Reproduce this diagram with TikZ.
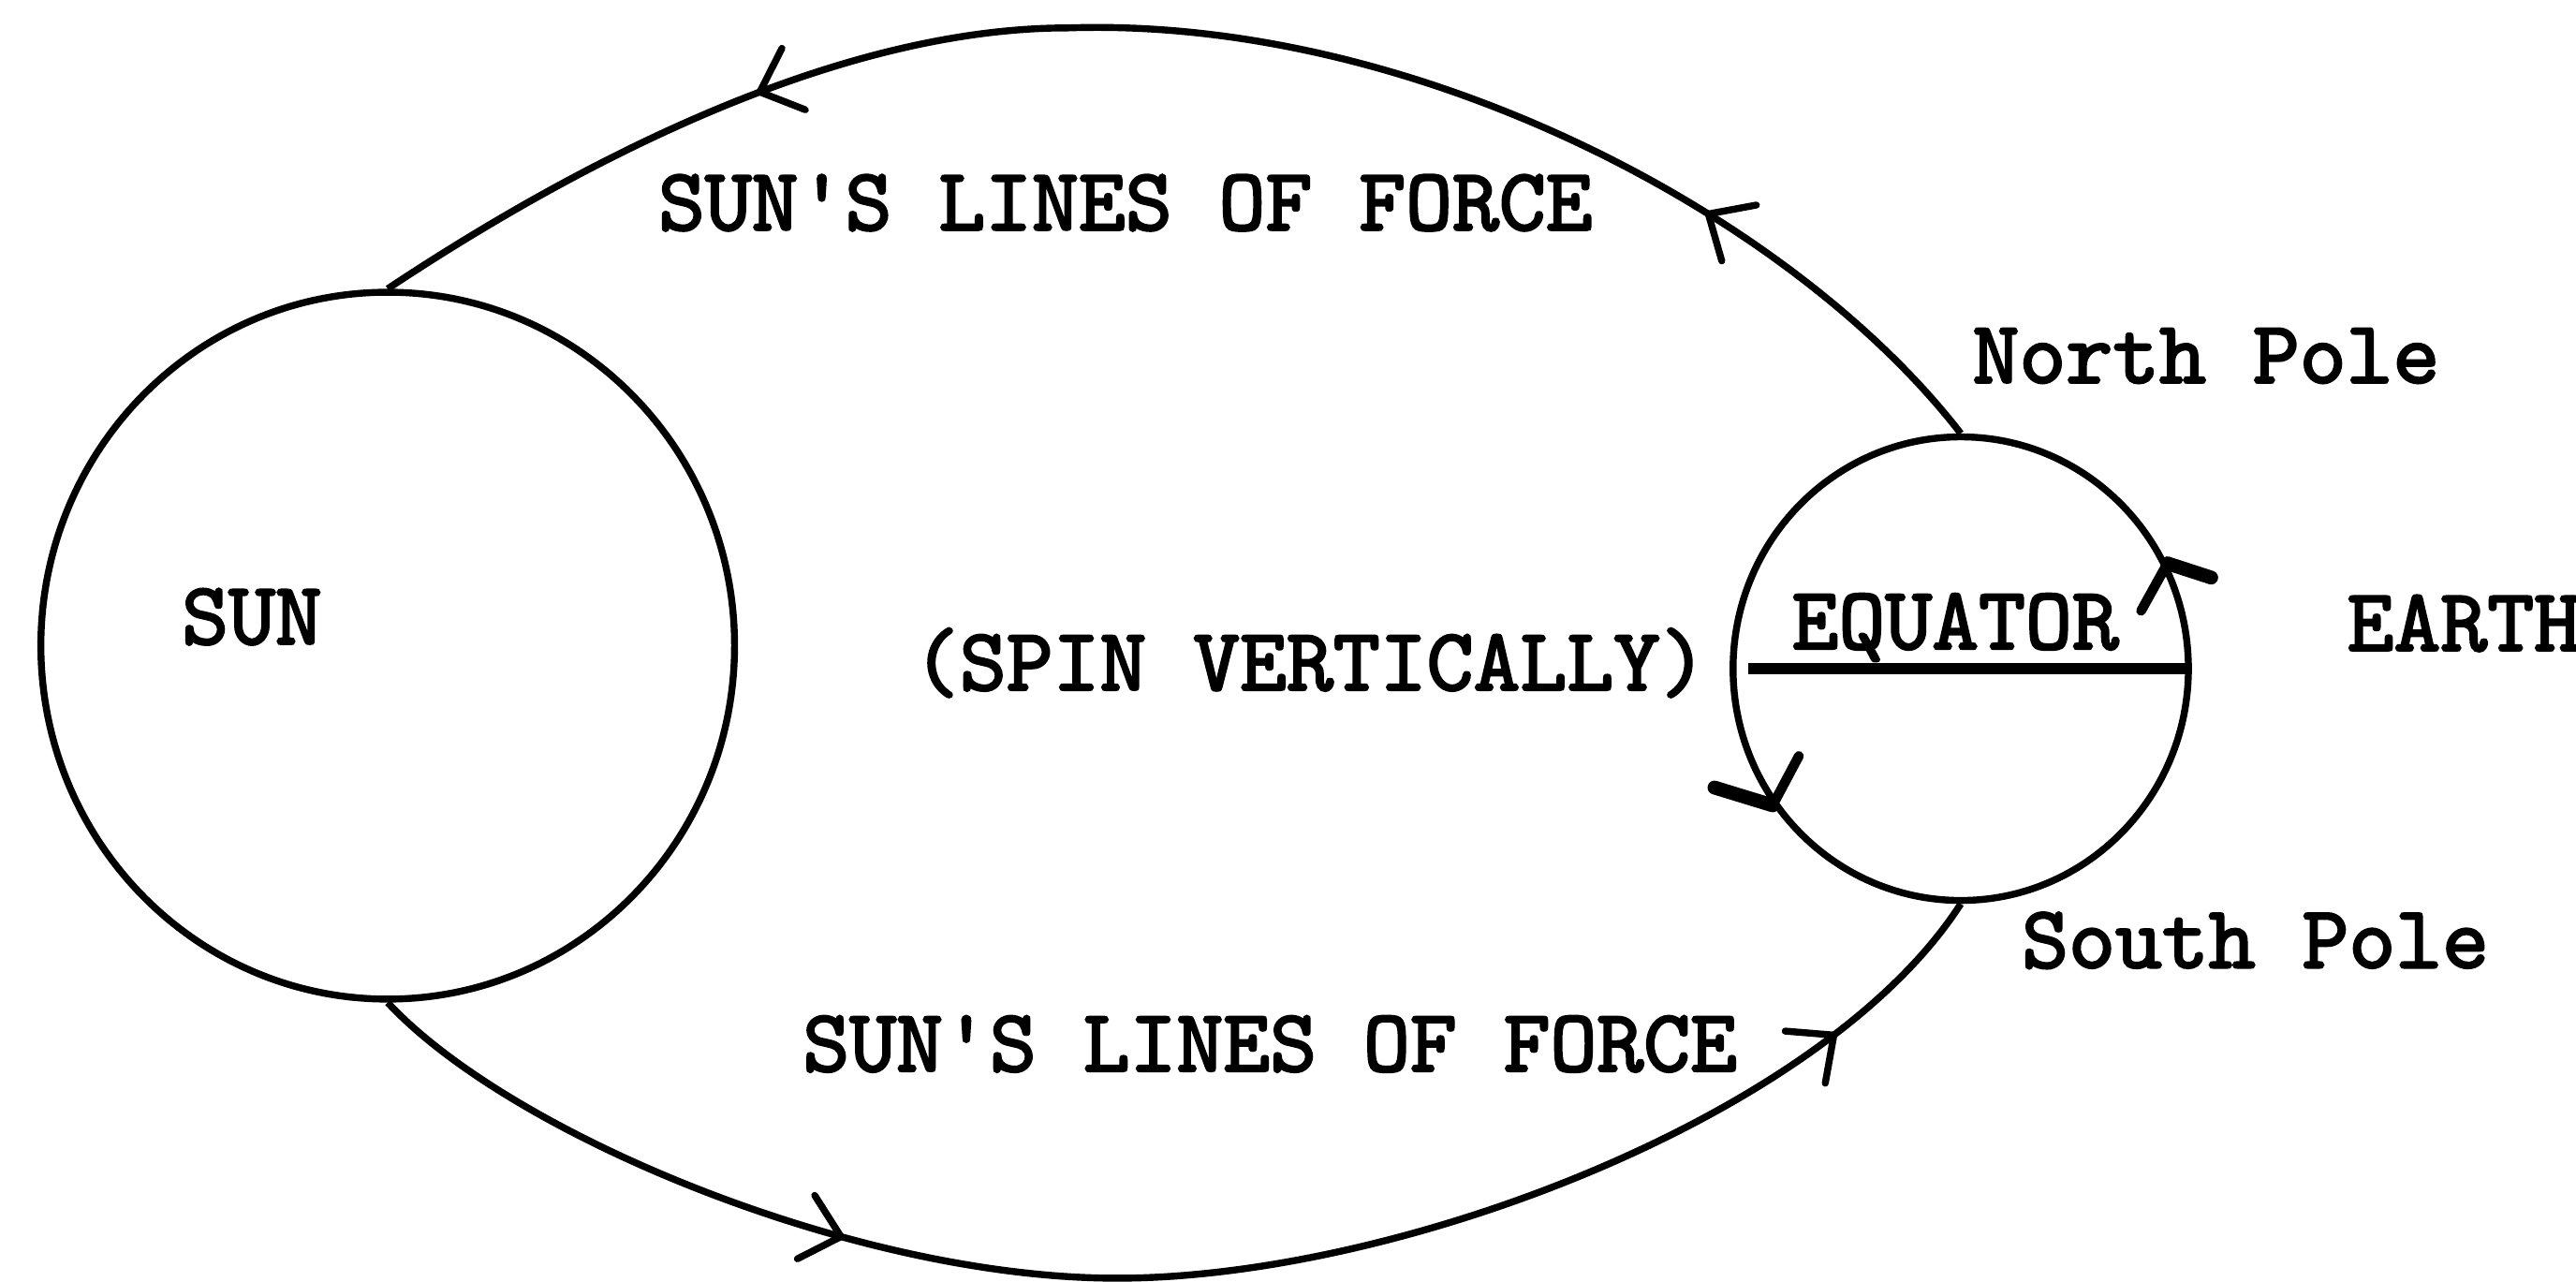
\documentclass[tikz,border=0pt]{standalone}
\usepackage{fontspec}
\newfontfamily\twfont{lmmono10-regular}[Extension=.otf, FakeBold=2.5]
\usetikzlibrary{arrows.meta,decorations.markings,shapes.geometric}
\begin{document}
\begin{tikzpicture}[x=0.01cm,y=-0.01cm,
  body/.style={draw, ellipse, line width=1.2pt, inner sep=0pt},
  lbl/.style={font=\twfont\fontsize{15.4}{18}\selectfont, anchor=base west, inner sep=0pt},
  fbarb/.tip={Straight Barb[length=0.22cm,width=0.40cm,round]},
  force/.style={line width=1.2pt, postaction={decorate}},
  spin/.style={line width=2.4pt, line cap=round, line join=round},
  spinthin/.style={line width=1.7pt, line cap=round, line join=round},
  equator/.style={line width=1.8pt}
]
\useasboundingbox (0,0) rectangle (1568,780);
\clip (0,0) rectangle (1568,780);

% bodies
\node[body, minimum width=4.22cm, minimum height=4.30cm] (sun) at (236,393) {};
\node[body, minimum width=2.77cm, minimum height=2.82cm] (earth) at (1193.5,407) {};

% equator
\draw[equator] ([xshift=0.115cm]earth.west) -- (earth.east);

% lines of force
\draw[force, decoration={markings,
    mark=at position 0.194 with {\arrow{fbarb}},
    mark=at position 0.761 with {\arrow{fbarb}}}]
  (earth.north) .. controls (1090,130) and (860,10) .. (650,17)
  .. controls (500,17) and (335,110) .. (sun.north);
\draw[force, decoration={markings,
    mark=at position 0.297 with {\arrow{fbarb}},
    mark=at position 0.897 with {\arrow{fbarb}}}]
  (sun.south) .. controls (310,690) and (520,778) .. (680,778)
  .. controls (850,778) and (1110,680) .. (earth.south);

% spin arrows on the earth
\coordinate (spinR) at (earth.27);
\coordinate (spinL) at (earth.216);
\draw[spin] (spinR) -- ++(-18:0.28cm);
\draw[spinthin] (spinR) -- ++(-119:0.33cm);
\draw[spin] (spinL) -- ++(163:0.37cm);
\draw[spinthin] (spinL) -- ++(62:0.34cm);

% labels
\node[lbl] (sunlbl) at (110,392) {SUN};
\node[lbl] (topforce) at (400,140) {SUN'S LINES OF FORCE};
\node[lbl] (botforce) at (488,652) {SUN'S LINES OF FORCE};
\node[lbl] (spintxt) at (555,420) {(SPIN VERTICALLY)};
\node[lbl] (eqlbl) at (1090,395) {EQUATOR};
\node[lbl] (north) at (1200,233) {North Pole};
\node[lbl] (south) at (1230,589) {South Pole};
\node[lbl] (earthlbl) at (1428,396) {EARTH};
\end{tikzpicture}
\end{document}
